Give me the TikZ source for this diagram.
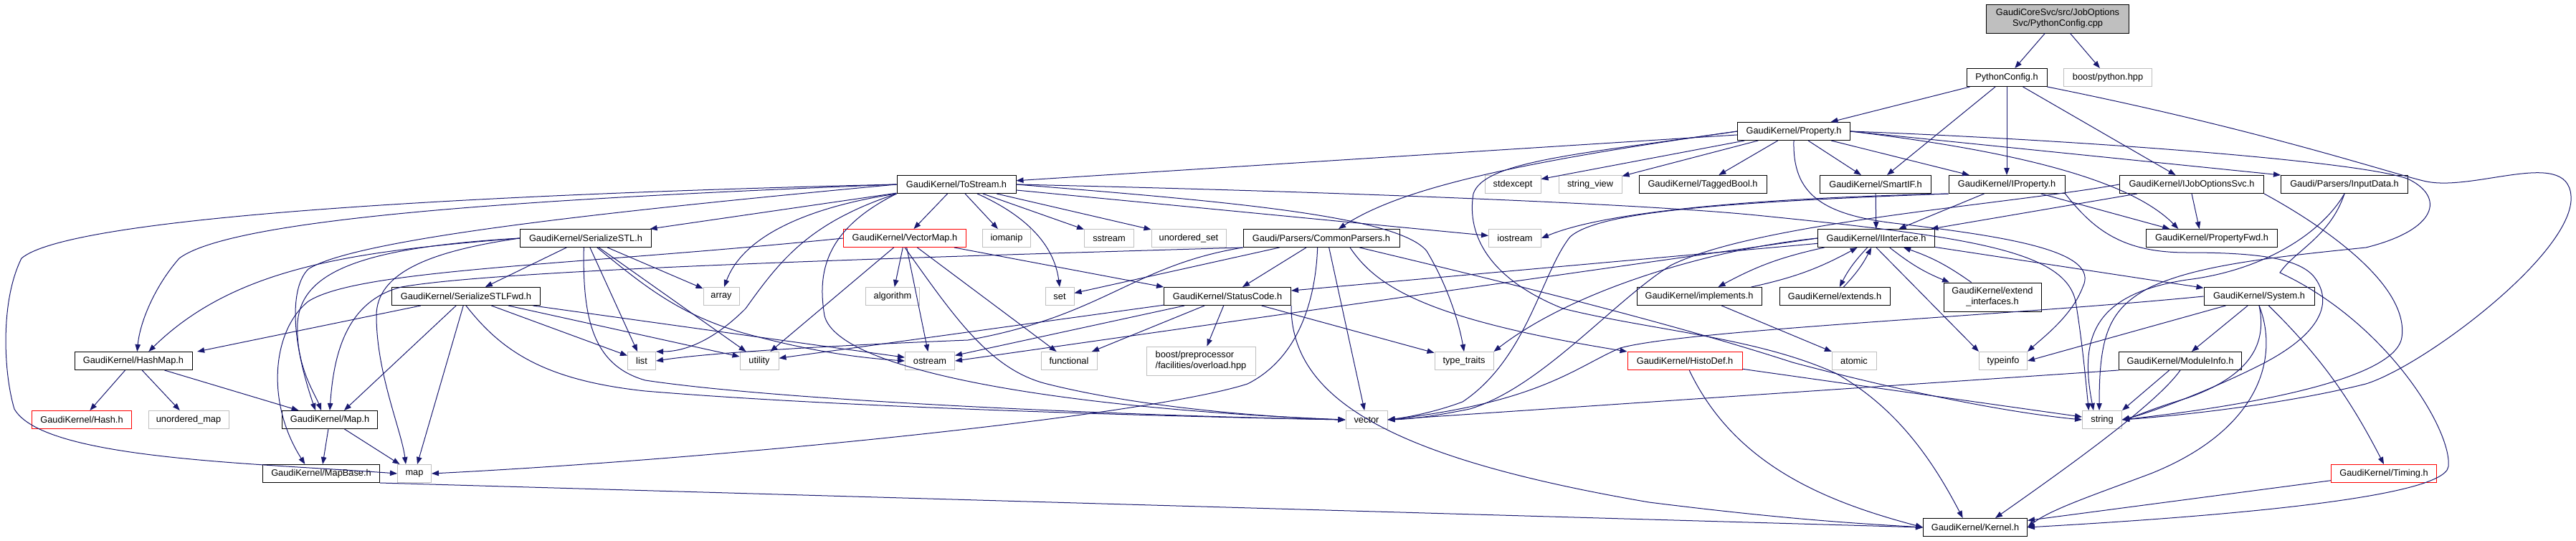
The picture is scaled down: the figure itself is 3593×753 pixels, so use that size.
\documentclass[tikz,border=0pt]{standalone}
\usepackage{fontspec}
\setmainfont{Liberation Sans}
\usetikzlibrary{arrows.meta}
\definecolor{edgeblue}{HTML}{191970}
\definecolor{sysgray}{HTML}{BFBFBF}
\definecolor{rootgray}{HTML}{BFBFBF}
\definecolor{cutred}{HTML}{FF0000}

\begin{document}
\begin{tikzpicture}[x=0.75pt,y=-0.75pt,
    hdr/.style={draw=black, fill=white, line width=0.75pt, inner sep=0pt,
      minimum height=18.75pt, align=center,
      font=\fontsize{9.6}{11.25}\selectfont},
    boxw/.style={minimum width=#1*0.75pt},
    twoline/.style={minimum height=30pt},
    sys/.style={hdr, draw=sysgray},
    cut/.style={hdr, draw=cutred},
    rootfile/.style={hdr, fill=rootgray, twoline},
    inc/.style={draw=edgeblue, line width=0.75pt,
      -{Triangle[length=7.5pt,width=5.6pt]}}]
  \useasboundingbox (0,0) rectangle (3593,753);

  % Row 0 and 1
  \node[rootfile, boxw=199] (root) at (2870,26) {GaudiCoreSvc/src/JobOptions\\Svc/PythonConfig.cpp};
  \node[hdr, boxw=112] (pyconfig) at (2799,108) {PythonConfig.h};
  \node[sys, boxw=123] (boostpy) at (2940,108) {boost/python.hpp};
  % Row 2
  \node[hdr, boxw=157] (property) at (2502,183) {GaudiKernel/Property.h};
  % Row 3
  \node[hdr, boxw=166] (tostream) at (1334,257) {GaudiKernel/ToStream.h};
  \node[sys, boxw=78] (stdexcept) at (2110,257) {stdexcept};
  \node[sys, boxw=88] (strview) at (2218,257) {string\_view};
  \node[hdr, boxw=178] (taggedbool) at (2375,257) {GaudiKernel/TaggedBool.h};
  \node[hdr, boxw=155] (smartif) at (2616,257) {GaudiKernel/SmartIF.h};
  \node[hdr, boxw=162] (iproperty) at (2799,257) {GaudiKernel/IProperty.h};
  \node[hdr, boxw=201] (ijobsvc) at (3057,257) {GaudiKernel/IJobOptionsSvc.h};
  \node[hdr, boxw=177] (inputdata) at (3270,257) {Gaudi/Parsers/InputData.h};
  % Row 4
  \node[hdr, boxw=183] (serstl) at (817,332) {GaudiKernel/SerializeSTL.h};
  \node[cut, boxw=171] (vectormap) at (1262,332) {GaudiKernel/VectorMap.h};
  \node[sys, boxw=67] (iomanip) at (1404,332) {iomanip};
  \node[sys, boxw=69] (sstream) at (1547,332) {sstream};
  \node[sys, boxw=104] (uset) at (1658,332) {unordered\_set};
  \node[hdr, boxw=218] (parsers) at (1843,332) {Gaudi/Parsers/CommonParsers.h};
  \node[sys, boxw=73] (iostream) at (2113,332) {iostream};
  \node[hdr, boxw=163] (iinterface) at (2617,332) {GaudiKernel/IInterface.h};
  \node[hdr, boxw=183] (propfwd) at (3085,332) {GaudiKernel/PropertyFwd.h};
  % Row 5
  \node[hdr, boxw=207] (serstlfwd) at (650,413) {GaudiKernel/SerializeSTLFwd.h};
  \node[sys, boxw=50] (array) at (1006,413) {array};
  \node[sys, boxw=75] (algorithm) at (1245,413) {algorithm};
  \node[sys, boxw=40] (set) at (1478,413) {set};
  \node[hdr, boxw=177] (statuscode) at (1712,413) {GaudiKernel/StatusCode.h};
  \node[hdr, boxw=174] (implements) at (2370,413) {GaudiKernel/implements.h};
  \node[hdr, boxw=154] (extends) at (2559,413) {GaudiKernel/extends.h};
  \node[hdr, boxw=136, twoline] (extendif) at (2779,414) {GaudiKernel/extend\\\_interfaces.h};
  \node[hdr, boxw=154] (system) at (3151,413) {GaudiKernel/System.h};
  % Row 6
  \node[hdr, boxw=164] (hashmap) at (186,503) {GaudiKernel/HashMap.h};
  \node[sys, boxw=39] (list) at (895,503) {list};
  \node[sys, boxw=54] (utility) at (1059,503) {utility};
  \node[sys, boxw=69] (ostream) at (1297,503) {ostream};
  \node[sys, boxw=78] (functional) at (1491,503) {functional};
  \node[sys, boxw=152, twoline, align=left] (boostpp) at (1675,503) {boost/preprocessor\\/facilities/overload.hpp};
  \node[sys, boxw=82] (typetraits) at (2042,503) {type\_traits};
  \node[cut, boxw=160] (histodef) at (2350,503) {GaudiKernel/HistoDef.h};
  \node[sys, boxw=62] (atomic) at (2586,503) {atomic};
  \node[sys, boxw=67] (typeinfo) at (2794,503) {typeinfo};
  \node[hdr, boxw=171] (moduleinfo) at (3041,503) {GaudiKernel/ModuleInfo.h};
  % Row 7
  \node[cut, boxw=139] (hash) at (114,585) {GaudiKernel/Hash.h};
  \node[sys, boxw=112] (umap) at (263,585) {unordered\_map};
  \node[hdr, boxw=133] (mapk) at (460,585) {GaudiKernel/Map.h};
  \node[sys, boxw=58] (vector) at (1906,585) {vector};
  \node[sys, boxw=55] (string) at (2932,585) {string};
  % Row 8 and 9
  \node[hdr, boxw=163] (mapbase) at (448,660) {GaudiKernel/MapBase.h};
  \node[sys, boxw=47] (map) at (578,660) {map};
  \node[cut, boxw=147] (timing) at (3325,660) {GaudiKernel/Timing.h};
  \node[hdr, boxw=145] (kernel) at (2755,735) {GaudiKernel/Kernel.h};

  % PythonConfig.cpp and PythonConfig.h
  \draw[inc] (root) -- (pyconfig);
  \draw[inc] (root) -- (boostpy);
  \draw[inc] (pyconfig) -- (property);
  \draw[inc] (pyconfig) -- (smartif);
  \draw[inc] (pyconfig) -- (iproperty);
  \draw[inc] (pyconfig) -- (ijobsvc);
  \draw[inc] (pyconfig.south east) .. controls (3150,180) and (3330,240) .. (3380,252)
    .. controls (3450,270) and (3590,200) .. (3586,280)
    .. controls (3580,360) and (3380,510) .. (3300,535)
    .. controls (3180,565) and (3030,580) .. (string.east);

  % Property.h
  \draw[inc] (property) -- (tostream);
  \draw[inc] (property.west) .. controls (2100,228) and (1950,265) .. ([xshift=18pt]parsers.north);
  \draw[inc] (property) -- (stdexcept);
  \draw[inc] (property) -- (strview);
  \draw[inc] (property) -- (taggedbool);
  \draw[inc] (property) -- (smartif);
  \draw[inc] (property) -- (iproperty);
  \draw[inc] (property.east) -- (inputdata.north west);
  \draw[inc] (property.east) .. controls (2850,215) and (2980,260) .. ([xshift=-35pt]propfwd.north);
  \draw[inc] (property.south) .. controls (2500,270) and (2540,300) .. (2650,312)
    .. controls (2800,330) and (2930,350) .. (2905,400)
    .. controls (2890,440) and (2850,470) .. (typeinfo.north east);
  \draw[inc] (property.east) .. controls (2900,195) and (3300,225) .. (3360,250)
    .. controls (3410,275) and (3400,320) .. (3300,345)
    .. controls (3150,360) and (3060,372) .. (3000,400)
    .. controls (2940,430) and (2928,470) .. ([xshift=-3pt]string.north);
  \draw[inc] (property.west) .. controls (2200,215) and (2070,225) .. (2055,270)
    .. controls (2045,330) and (2080,390) .. (2180,430)
    .. controls (2300,460) and (2450,470) .. (2560,520)
    .. controls (2650,570) and (2700,650) .. ([xshift=-13pt]kernel.north);

  % ToStream.h
  \draw[inc] (tostream) -- (serstl);
  \draw[inc] (tostream) -- (vectormap);
  \draw[inc] (tostream) -- (iomanip);
  \draw[inc] (tostream) -- (sstream);
  \draw[inc] (tostream) -- (uset);
  \draw[inc] (tostream) -- (iostream);
  \draw[inc] (tostream.west) .. controls (800,275) and (330,300) .. (250,360)
    .. controls (215,400) and (195,450) .. ([xshift=4pt]hashmap.north);
  \draw[inc] (tostream.west) .. controls (700,270) and (100,300) .. (30,360)
    .. controls (0,420) and (5,520) .. (20,570)
    .. controls (60,640) and (350,645) .. (map.west);
  \draw[inc] (tostream.west) .. controls (900,290) and (500,330) .. (430,375)
    .. controls (405,400) and (405,470) .. ([xshift=-15pt]mapk.north);
  \draw[inc] (tostream.south west) .. controls (1150,285) and (1040,320) .. ([xshift=3pt]array.north);
  \draw[inc] (tostream.south west) .. controls (1130,310) and (1090,360) .. (1040,430)
    .. controls (1000,470) and (960,490) .. (list.north east);
  \draw[inc] (tostream) .. controls (1430,300) and (1470,340) .. (set.north);
  \draw[inc] (tostream.south west) .. controls (1150,320) and (1140,380) .. (1150,440)
    .. controls (1170,520) and (1500,570) .. (vector.west);
  \draw[inc] (tostream.east) .. controls (1700,280) and (1950,300) .. (1990,350)
    .. controls (2020,400) and (2035,450) .. (typetraits.north);
  \draw[inc] (tostream.east) .. controls (1900,268) and (2300,285) .. (2450,300)
    .. controls (2750,330) and (2880,350) .. (2895,420)
    .. controls (2905,480) and (2910,540) .. ([xshift=-14pt]string.north);

  % SerializeSTL.h and SerializeSTLFwd.h
  \draw[inc] (serstl) -- (serstlfwd);
  \draw[inc] (serstl) -- (array);
  \draw[inc] (serstl) -- (list);
  \draw[inc] (serstl) -- (utility);
  \draw[inc] (serstl) .. controls (900,400) and (950,440) .. (1040,465)
    .. controls (1150,495) and (1220,500) .. (ostream.west);
  \draw[inc] ([xshift=-2pt]serstl.south) .. controls (812,450) and (830,510) .. (900,530)
    .. controls (1100,560) and (1600,580) .. (vector.west);
  \draw[inc] (serstl.west) .. controls (500,350) and (330,370) .. ([xshift=16pt]hashmap.north);
  \draw[inc] (serstl.west) .. controls (500,345) and (420,380) .. (415,450)
    .. controls (412,510) and (440,550) .. ([xshift=-9pt]mapk.north);
  \draw[inc] (serstl.west) .. controls (600,350) and (525,380) .. (525,440)
    .. controls (525,520) and (560,600) .. ([xshift=-9pt]map.north);
  \draw[inc] (serstlfwd) -- ([xshift=5pt]hashmap.north east);
  \draw[inc] (serstlfwd) -- ([xshift=15pt]mapk.north);
  \draw[inc] (serstlfwd) -- (list);
  \draw[inc] (serstlfwd) -- (utility);
  \draw[inc] (serstlfwd) -- (ostream);
  \draw[inc] (serstlfwd) -- ([xshift=3pt]map.north);
  \draw[inc] (serstlfwd.south) .. controls (700,490) and (760,530) .. (900,545)
    .. controls (1200,570) and (1700,582) .. (vector.west);

  % VectorMap.h
  \draw[inc] (vectormap) -- (algorithm);
  \draw[inc] (vectormap) -- (utility);
  \draw[inc] (vectormap) -- (ostream);
  \draw[inc] (vectormap) -- (functional);
  \draw[inc] (vectormap) -- (statuscode.north west);
  \draw[inc] (vectormap.south) .. controls (1330,440) and (1380,515) .. (1460,535)
    .. controls (1600,570) and (1780,582) .. (vector.west);
  \draw[inc] (vectormap.west) .. controls (800,370) and (500,375) .. (430,420)
    .. controls (380,460) and (370,560) .. ([xshift=-17pt]mapbase.north);

  % CommonParsers.h
  \draw[inc] (parsers) -- (set);
  \draw[inc] (parsers) -- (statuscode);
  \draw[inc] (parsers.south west) .. controls (1580,370) and (1540,440) .. (1350,474)
    .. controls (1200,480) and (1000,490) .. (list.east);
  \draw[inc] ([xshift=-4pt]parsers.south) .. controls (1835,420) and (1810,500) .. (1740,535)
    .. controls (1600,580) and (1000,640) .. (map.east);
  \draw[inc] ([xshift=8pt]parsers.south) -- (vector);
  \draw[inc] ([xshift=30pt]parsers.south) .. controls (1920,400) and (1990,445) .. (histodef.north west);
  \draw[inc] (parsers.south west) .. controls (1300,358) and (700,375) .. (560,400)
    .. controls (480,420) and (465,500) .. (mapk.north);
  \draw[inc] ([xshift=40pt]parsers.south) .. controls (2000,370) and (2300,440) .. (2500,505)
    .. controls (2650,545) and (2800,575) .. (string.west);

  % IInterface.h and its helpers
  \draw[inc] (iinterface) to[bend right=8] (implements);
  \draw[inc] (implements) to[bend right=8] (iinterface);
  \draw[inc] (iinterface) to[bend right=8] (extends);
  \draw[inc] (extends) to[bend right=8] (iinterface);
  \draw[inc] (iinterface) to[bend right=8] (extendif);
  \draw[inc] (extendif) to[bend right=8] (iinterface);
  \draw[inc] (implements) -- (atomic);
  \draw[inc] (iinterface) -- (system);
  \draw[inc] (iinterface) -- (statuscode);
  \draw[inc] (iinterface.south) -- (typeinfo.north west);
  \draw[inc] (iinterface.west) .. controls (2400,345) and (2200,400) .. (typetraits.north east);
  \draw[inc] (iinterface.west) -- (ostream.east);

  % IProperty.h, IJobOptionsSvc.h, SmartIF.h, InputData.h
  \draw[inc] (smartif) -- (iinterface);
  \draw[inc] (iproperty) -- (iinterface);
  \draw[inc] (iproperty) -- ([xshift=-44pt]propfwd.north);
  \draw[inc] (iproperty.south west) .. controls (2500,275) and (2250,290) .. (iostream.east);
  \draw[inc] (iproperty.south west) .. controls (2400,282) and (2230,295) .. (2190,330)
    .. controls (2150,380) and (2130,500) .. (2040,560)
    .. controls (2000,575) and (1960,582) .. (vector.east);
  \draw[inc] (iproperty.south east) .. controls (2920,320) and (2960,352) .. (3050,352)
    .. controls (3150,352) and (3205,360) .. (3227,385)
    .. controls (3255,420) and (3240,465) .. (3150,510)
    .. controls (3080,545) and (3000,575) .. (string.east);
  \draw[inc] (ijobsvc) -- (iinterface);
  \draw[inc] (ijobsvc.south) -- ([xshift=-13pt]propfwd.north);
  \draw[inc] (ijobsvc.west) .. controls (2800,285) and (2450,310) .. (2330,370)
    .. controls (2250,420) and (2150,540) .. (2050,570)
    .. controls (2000,580) and (1970,584) .. (vector.east);
  \draw[inc] (ijobsvc.south east) .. controls (3250,320) and (3360,400) .. (3350,470)
    .. controls (3340,540) and (3050,575) .. (string.east);
  \draw[inc] (inputdata.south) .. controls (3235,330) and (3150,378) .. (3050,390)
    .. controls (2920,410) and (2900,470) .. ([xshift=-9pt]string.north);
  \draw[inc] (inputdata.south) .. controls (3250,330) and (3200,350) .. (3180,380)
    .. controls (3330,450) and (3420,600) .. (3415,650)
    .. controls (3410,700) and (3000,725) .. (kernel.east);

  % StatusCode.h
  \draw[inc] (statuscode) -- (ostream);
  \draw[inc] (statuscode) -- (functional);
  \draw[inc] (statuscode) -- (boostpp);
  \draw[inc] (statuscode) -- (typetraits);
  \draw[inc] (statuscode) -- (utility);
  \draw[inc] (statuscode.south east) .. controls (1800,560) and (1950,640) .. (2300,700)
    .. controls (2500,725) and (2600,730) .. (kernel.west);

  % HashMap.h, Map.h, MapBase.h, HistoDef.h
  \draw[inc] (hashmap) -- (hash);
  \draw[inc] (hashmap) -- (umap);
  \draw[inc] (hashmap) -- (mapk);
  \draw[inc] (mapk) -- (mapbase);
  \draw[inc] (mapk) -- (map);
  \draw[inc] (mapbase.south east) -- (kernel.west);
  \draw[inc] (histodef) -- (string);
  \draw[inc] (histodef) .. controls (2420,650) and (2550,700) .. (kernel.west);

  % System.h, ModuleInfo.h, Timing.h
  \draw[inc] (system) -- (moduleinfo);
  \draw[inc] (system) .. controls (3240,500) and (3280,560) .. (timing.north);
  \draw[inc] (system) -- (typeinfo.east);
  \draw[inc] (system.south) .. controls (3160,470) and (3150,520) .. (3050,555)
    .. controls (3000,570) and (2980,580) .. (string.east);
  \draw[inc] (system.south) .. controls (3180,500) and (3150,600) .. (3000,660)
    .. controls (2920,690) and (2860,710) .. (kernel.east);
  \draw[inc] (system.west) .. controls (2800,440) and (2350,460) .. (2260,485)
    .. controls (2200,510) and (2150,560) .. (vector.east);
  \draw[inc] (moduleinfo) -- (string.north east);
  \draw[inc] (moduleinfo.south) .. controls (3010,560) and (2900,640) .. ([xshift=21pt]kernel.north);
  \draw[inc] (moduleinfo.south west) -- (vector.east);
  \draw[inc] (timing) -- (kernel);
\end{tikzpicture}
\end{document}
